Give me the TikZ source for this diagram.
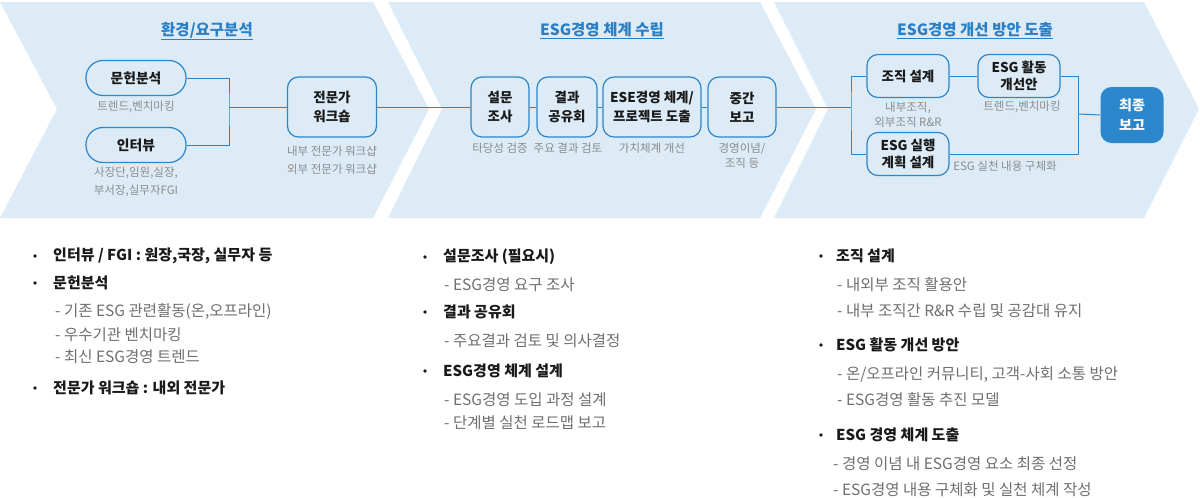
\documentclass[tikz,border=0pt]{standalone}
\usepackage{fontspec}
\setmainfont{Noto Sans CJK KR}
\definecolor{bandblue}{HTML}{DCEBF6}
\definecolor{lineblue}{HTML}{2C86CC}
\definecolor{titleblue}{HTML}{2A7FC7}
\definecolor{capgray}{HTML}{8C8C8C}
\definecolor{subgray}{HTML}{6E6E6E}
\definecolor{inkdark}{HTML}{1A1A1A}
\tikzset{
  band/.style={fill=bandblue},
  link/.style={draw=lineblue,line width=1pt},
  title/.style={text=titleblue,inner sep=0pt,font=\fontsize{15.5}{17}\selectfont\bfseries},
  pill/.style={draw=lineblue,line width=1.2pt,fill=bandblue,rounded corners=17pt,minimum width=100pt,minimum height=35pt,inner sep=0pt,text=inkdark,font=\fontsize{13.8}{19}\selectfont\bfseries},
  stepbox/.style={draw=lineblue,line width=1.2pt,fill=bandblue,rounded corners=11pt,minimum height=60pt,inner sep=0pt,align=center,text=inkdark,font=\fontsize{13.5}{19}\selectfont\bfseries},
  planbox/.style={stepbox,minimum width=82pt,minimum height=43pt,font=\fontsize{13.5}{17}\selectfont\bfseries},
  finalbox/.style={fill=lineblue,rounded corners=11pt,minimum width=63pt,minimum height=56pt,inner sep=0pt,align=center,text=white,font=\fontsize{14}{20}\selectfont\bfseries},
  captext/.style={text=capgray,align=center,inner sep=0pt,font=\fontsize{11.5}{17.5}\selectfont},
  tightcap/.style={captext,font=\fontsize{11.5}{15}\selectfont},
  bulletdot/.style={circle,fill=inkdark,inner sep=0pt,minimum size=3.6pt},
  headtext/.style={anchor=west,inner sep=0pt,text=inkdark,font=\fontsize{15}{17}\selectfont\bfseries},
  subtext/.style={anchor=west,inner sep=0pt,text=subgray,font=\fontsize{15.5}{17}\selectfont},
}
\begin{document}
\begin{tikzpicture}[x=1pt,y=-1pt]
    \useasboundingbox (0,0) rectangle (1200,498);

    % bands
    \fill[band] (0,2) -- (373,2) -- (429,109) -- (373,218) -- (0,218) -- (57,109) -- cycle;
    \fill[band] (388,2) -- (760,2) -- (816,109) -- (760,218) -- (388,218) -- (442,109) -- cycle;
    \fill[band] (774,2) -- (1144,2) -- (1199,109) -- (1144,218) -- (774,218) -- (828,109) -- cycle;

    \node[title] (T1) at (207,31) {\underline{환경/요구분석}};
    \node[title] (T2) at (602,31) {\underline{ESG경영 체계 수립}};
    \node[title] (T3) at (975,31) {\underline{ESG경영 개선 방안 도출}};

    % step 1
    \node[pill] (A1) at (136,78) {문헌분석};
    \node[captext] (a1) at (136,107) {트렌드,벤치마킹};
    \node[pill] (A2) at (136,145) {인터뷰};
    \node[captext] (a2) at (136,182) {사장단,임원,실장,\\부서장,실무자FGI};
    \node[stepbox,minimum width=89pt] (A3) at (332,107) {전문가\\워크숍};
    \node[captext] (a3) at (332,160) {내부 전문가 워크샵\\외부 전문가 워크샵};

    % step 2
    \node[stepbox,minimum width=58pt] (B1) at (500,107) {설문\\조사};
    \node[stepbox,minimum width=60pt] (B2) at (567,107) {결과\\공유회};
    \node[stepbox,minimum width=98pt] (B3) at (652,107) {ESE경영 체계/\\프로젝트 도출};
    \node[stepbox,minimum width=68pt] (B4) at (742,107) {중간\\보고};
    \node[captext] (b1) at (500,148) {타당성 검증};
    \node[captext] (b2) at (568,148) {주요 결과 검토};
    \node[captext] (b3) at (652,148) {가치체계 개선};
    \node[tightcap] (b4) at (742,155.5) {경영이념/\\조직 등};

    % step 3
    \node[planbox] (C1) at (908,76) {조직 설계};
    \node[planbox] (C2) at (1019,76) {ESG 활동\\개선안};
    \node[planbox] (C3) at (908,154) {ESG 실행\\계획 설계};
    \node[finalbox] (C4) at (1132,115) {최종\\보고};
    \node[tightcap] (c1) at (908,115) {내부조직,\\외부조직 R\&R};
    \node[captext] (c2) at (1022,107) {트렌드,벤치마킹};
    \node[captext] (c3) at (1005,166) {ESG 실천 내용 구체화};

    \coordinate (J1) at (229,107);
    \coordinate (J2) at (851,107);
    \coordinate (J3) at (1078,114);

    \draw[link] (A1.east) -| (J1) |- (A2.east);
    \draw[link] (J1) -- (A3.west);
    \draw[link] (A3.east) -- (B1.west);
    \draw[link] (B1) -- (B2);
    \draw[link] (B2) -- (B3);
    \draw[link] (B3) -- (B4);
    \draw[link] (B4.east) -- (J2);
    \draw[link] (C1.west) -| (J2) |- (C3.west);
    \draw[link] (C1) -- (C2);
    \draw[link] (C2.east) -| (J3) |- (C3.east);
    \draw[link] (J3) -- (C4.west);

    % notes
    \node[bulletdot] (p1) at (35,256) {};
    \node[headtext] (h1) at (53,256) {인터뷰 / FGI : 원장,국장, 실무자 등};
    \node[bulletdot] (p2) at (35,283) {};
    \node[headtext] (h2) at (53,283) {문헌분석};
    \node[subtext] (s1) at (55,312) {- 기존 ESG 관련활동(온,오프라인)};
    \node[subtext] (s2) at (55,335) {- 우수기관 벤치마킹};
    \node[subtext] (s3) at (55,357) {- 최신 ESG경영 트렌드};
    \node[bulletdot] (p3) at (35,388) {};
    \node[headtext] (h3) at (53,388) {전문가 워크숍 : 내외 전문가};

    \node[bulletdot] (p4) at (425,257) {};
    \node[headtext] (h4) at (443,257) {설문조사 (필요시)};
    \node[subtext] (s4) at (444,285) {- ESG경영 요구 조사};
    \node[bulletdot] (p5) at (425,312) {};
    \node[headtext] (h5) at (443,312) {결과 공유회};
    \node[subtext] (s5) at (444,341) {- 주요결과 검토 및 의사결정};
    \node[bulletdot] (p6) at (425,371) {};
    \node[headtext] (h6) at (443,371) {ESG경영 체계 설계};
    \node[subtext] (s6) at (444,400) {- ESG경영 도입 과정 설계};
    \node[subtext] (s7) at (444,423) {- 단계별 실천 로드맵 보고};

    \node[bulletdot] (p7) at (821,256) {};
    \node[headtext] (h7) at (836,256) {조직 설계};
    \node[subtext] (s8) at (837,285) {- 내외부 조직 활용안};
    \node[subtext] (s9) at (837,311) {- 내부 조직간 R\&R 수립 및 공감대 유지};
    \node[bulletdot] (p8) at (821,345) {};
    \node[headtext] (h8) at (836,345) {ESG 활동 개선 방안};
    \node[subtext] (s10) at (837,375) {- 온/오프라인 커뮤니티, 고객-사회 소통 방안};
    \node[subtext] (s11) at (837,400) {- ESG경영 활동 추진 모델};
    \node[bulletdot] (p9) at (821,435) {};
    \node[headtext] (h9) at (836,435) {ESG 경영 체계 도출};
    \node[subtext] (s12) at (833,464) {- 경영 이념 내 ESG경영 요소 최종 선정};
    \node[subtext] (s13) at (833,490) {- ESG경영 내용 구체화 및 실천 체계 작성};

    \end{tikzpicture}
\end{document}
